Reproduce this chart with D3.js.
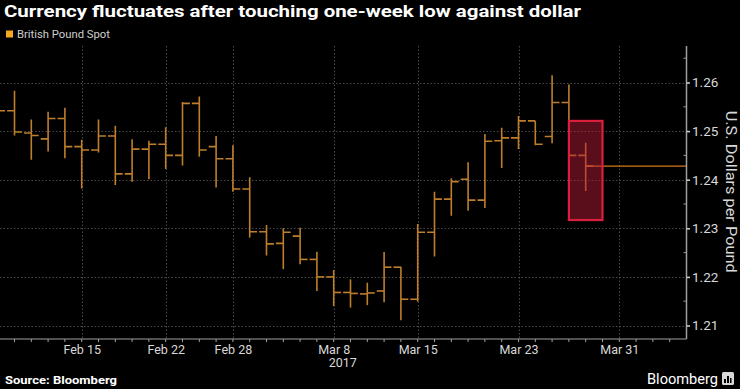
<!DOCTYPE html>
<html><head><meta charset="utf-8">
<script src="https://cdn.jsdelivr.net/npm/d3@7"></script>
<style>html,body{margin:0;padding:0;background:#000;overflow:hidden}svg{display:block}</style>
</head><body>
<script>
// ---- data ----
const dates = ["2017-02-08","2017-02-09","2017-02-10","2017-02-13","2017-02-14","2017-02-15","2017-02-16","2017-02-17",
  "2017-02-20","2017-02-21","2017-02-22","2017-02-23","2017-02-24","2017-02-27","2017-02-28","2017-03-01","2017-03-02",
  "2017-03-03","2017-03-06","2017-03-07","2017-03-08","2017-03-09","2017-03-10","2017-03-13","2017-03-14","2017-03-15",
  "2017-03-16","2017-03-17","2017-03-20","2017-03-21","2017-03-22","2017-03-23","2017-03-24","2017-03-27","2017-03-28","2017-03-29"];
const openV  = [1.2545,1.2542,1.2496,1.2484,1.2526,1.2468,1.2461,1.2490,1.2412,1.2463,1.2473,1.2450,1.2557,1.2468,1.2443,1.2381,1.2293,
  1.2269,1.2284,1.2236,1.2200,1.2168,1.2165,1.2171,1.2220,1.2154,1.2292,1.2360,1.2401,1.2358,1.2480,1.2486,1.2521,1.2489,1.2559,1.2450];
const highV  = [1.2560,1.2583,1.2524,1.2540,1.2548,1.2482,1.2524,1.2511,1.2483,1.2480,1.2508,1.2560,1.2571,1.2490,1.2471,1.2405,1.2307,
  1.2300,1.2301,1.2252,1.2214,1.2195,1.2188,1.2251,1.2221,1.2309,1.2375,1.2403,1.2436,1.2494,1.2507,1.2531,1.2521,1.2615,1.2596,1.2476];
const lowV   = [1.2530,1.2491,1.2441,1.2458,1.2444,1.2382,1.2456,1.2389,1.2396,1.2401,1.2422,1.2429,1.2447,1.2384,1.2375,1.2281,1.2244,
  1.2216,1.2226,1.2171,1.2140,1.2137,1.2142,1.2148,1.2111,1.2149,1.2242,1.2326,1.2336,1.2342,1.2424,1.2463,1.2471,1.2475,1.2440,1.2377];
const closeV = [1.2542,1.2498,1.2491,1.2526,1.2468,1.2461,1.2490,1.2412,1.2463,1.2473,1.2450,1.2557,1.2461,1.2443,1.2381,1.2293,1.2268,
  1.2292,1.2236,1.2200,1.2168,1.2166,1.2167,1.2220,1.2154,1.2292,1.2360,1.2396,1.2358,1.2479,1.2486,1.2521,1.2473,1.2559,1.2450,1.2428];
const yTicks = [1.21,1.22,1.23,1.24,1.25,1.26];
const xTickDates  = ["2017-02-15","2017-02-22","2017-02-28","2017-03-08","2017-03-15","2017-03-23","2017-03-31"];
const xTickLabels = ["Feb 15","Feb 22","Feb 28","Mar 8","Mar 15","Mar 23","Mar 31"];
const boxDates = ["2017-03-28","2017-03-30"];
const boxRange = [1.2317, 1.2521];
const seriesName = "British Pound Spot";

// ---- layout ----
const W = 740, H = 389;
const plotL = 0, plotR = 686.5, plotT = 46, plotB = 339;
const parse = d3.timeParse("%Y-%m-%d");
const first = parse(dates[0]);
const tradingDays = d3.timeDay.range(first, parse("2017-04-10")).filter(d => d.getDay() !== 0 && d.getDay() !== 6);
const dayIndex = s => { const t = +parse(s); return tradingDays.findIndex(d => +d === t); };

const x = d3.scaleLinear().domain([0, 41]).range([-2.3, 686.5]);
const y = d3.scaleLinear().domain([1.21, 1.26]).range([325.5, 82.5]);

const svg = d3.select("body").append("svg").attr("width", W).attr("height", H)
  .style("background", "#000").style("font-family", "Roboto, 'Open Sans', sans-serif");

svg.append("defs").append("clipPath").attr("id", "clip")
  .append("rect").attr("x", plotL).attr("y", plotT).attr("width", plotR - plotL).attr("height", plotB - plotT);

// title
svg.append("text").attr("x", 4).attr("y", 17).attr("fill", "#fff")
  .attr("font-size", 17).attr("font-weight", "bold")
  .attr("textLength", 577).attr("lengthAdjust", "spacingAndGlyphs")
  .text("Currency fluctuates after touching one-week low against dollar");

// legend
svg.append("rect").attr("x", 6).attr("y", 30.5).attr("width", 7).attr("height", 7).attr("fill", "#f5a623");
svg.append("text").attr("x", 17).attr("y", 37.8).attr("fill", "#cfcfcf").attr("font-size", 10)
  .attr("textLength", 93).attr("lengthAdjust", "spacingAndGlyphs").text(seriesName);

// grid
const grid = svg.append("g").attr("stroke", "#4a4a4a").attr("stroke-width", 1).attr("stroke-dasharray", "1.5,2");
grid.selectAll("line.h").data(yTicks).join("line")
  .attr("x1", plotL).attr("x2", plotR).attr("y1", d => Math.round(y(d)) + 0.5).attr("y2", d => Math.round(y(d)) + 0.5);
grid.selectAll("line.v").data(xTickDates).join("line")
  .attr("x1", d => Math.round(x(dayIndex(d))) + 0.5).attr("x2", d => Math.round(x(dayIndex(d))) + 0.5)
  .attr("y1", plotT).attr("y2", plotB);

// bars
const bars = svg.append("g").attr("clip-path", "url(#clip)")
  .attr("stroke", "#be7e2c").attr("stroke-width", 1.6).attr("fill", "none");
const idx = dates.map(dayIndex);
const tick = 7.4;
dates.forEach((d, i) => {
  const cx = x(idx[i]);
  bars.append("line").attr("x1", cx).attr("x2", cx).attr("y1", y(highV[i]) ).attr("y2", y(lowV[i]));
  bars.append("line").attr("x1", cx - tick).attr("x2", cx).attr("y1", y(openV[i])).attr("y2", y(openV[i]));
  bars.append("line").attr("x1", cx).attr("x2", cx + tick).attr("y1", y(closeV[i])).attr("y2", y(closeV[i]));
});

// last price line
const last = dates.length - 1;
svg.append("line").attr("x1", x(idx[last])).attr("x2", plotR)
  .attr("y1", y(closeV[last])).attr("y2", y(closeV[last]))
  .attr("stroke", "#d8791a").attr("stroke-width", 1.3);

// highlight box
const bx0 = x(dayIndex(boxDates[0])), bx1 = x(dayIndex(boxDates[1]));
svg.append("rect").attr("x", bx0).attr("y", y(boxRange[1])).attr("width", bx1 - bx0)
  .attr("height", y(boxRange[0]) - y(boxRange[1]))
  .attr("fill", "rgb(180,28,54)").attr("fill-opacity", 0.5)
  .attr("stroke", "#d8203e").attr("stroke-width", 2.2);

// y axis
const yAxis = svg.append("g").attr("transform", `translate(${plotR},0)`)
  .call(d3.axisRight(y).tickValues(yTicks).tickFormat(d3.format(".2f")).tickSize(3.5).tickPadding(2));
yAxis.select(".domain").attr("stroke", "#a0a0a0").attr("stroke-width", 1.5).attr("d", `M0,${plotT}V${plotB}`);
yAxis.selectAll(".tick line").attr("stroke", "#cfcfcf").attr("stroke-width", 1.5);
yAxis.selectAll(".tick text").attr("fill", "#d8d8d8").attr("font-size", 13.5).attr("font-family", "Roboto, sans-serif");
const minor = d3.range(1.205, 1.27, 0.01).filter(v => y(v) > plotT && y(v) < plotB);
yAxis.selectAll("line.minor").data(minor).join("line").attr("class", "minor")
  .attr("x1", -3).attr("x2", 0).attr("y1", d => y(d)).attr("y2", d => y(d))
  .attr("stroke", "#9a9a9a").attr("stroke-width", 1);

svg.append("text").attr("transform", `translate(725.5,191.7) rotate(90)`)
  .attr("text-anchor", "middle").attr("fill", "#d8d8d8").attr("font-size", 15.5)
  .attr("textLength", 162).attr("lengthAdjust", "spacingAndGlyphs")
  .text("U.S. Dollars per Pound");

// x axis
const xAxisG = svg.append("g").attr("transform", `translate(0,${plotB})`);
xAxisG.append("line").attr("x1", plotL).attr("x2", plotR).attr("stroke", "#a0a0a0").attr("stroke-width", 1.2);
const allTicks = d3.range(0, 41).map(i => x(i)).filter(v => v >= 0 && v <= plotR);
xAxisG.selectAll("line.t").data(allTicks).join("line").attr("class", "t")
  .attr("x1", d => d).attr("x2", d => d).attr("y1", 0).attr("y2", 3).attr("stroke", "#a0a0a0");
const xAxis = d3.axisBottom(x).tickValues(xTickDates.map(dayIndex))
  .tickFormat((d, i) => xTickLabels[i]).tickSize(0).tickPadding(6);
const xa = svg.append("g").attr("transform", `translate(0,${plotB})`).call(xAxis);
xa.select(".domain").remove();
xa.selectAll(".tick text").attr("fill", "#d8d8d8").attr("font-size", 12.5).attr("font-family", "Roboto, sans-serif");
svg.append("text").attr("x", x(dayIndex("2017-03-08")) + 9).attr("y", 367).attr("text-anchor", "middle")
  .attr("fill", "#d8d8d8").attr("font-size", 12.5).text("2017");

// footer
svg.append("text").attr("x", 5).attr("y", 384).attr("fill", "#fff").attr("font-size", 11.5)
  .attr("font-weight", "bold").attr("textLength", 112).attr("lengthAdjust", "spacingAndGlyphs").text("Source: Bloomberg");
svg.append("text").attr("x", 718).attr("y", 384).attr("text-anchor", "end").attr("fill", "#fff")
  .attr("font-size", 15).attr("textLength", 71).attr("lengthAdjust", "spacingAndGlyphs").text("Bloomberg");
const ic = svg.append("g").attr("transform", "translate(722,372)");
ic.append("rect").attr("width", 12).attr("height", 13).attr("rx", 1.5).attr("fill", "#d8d8d8");
[[3,7,2,4],[6,4,2,7],[9,6,1.5,5]].forEach(b => ic.append("rect").attr("x", b[0]-1).attr("y", b[1]).attr("width", b[2]).attr("height", b[3]).attr("fill", "#000"));
</script>
</body></html>
